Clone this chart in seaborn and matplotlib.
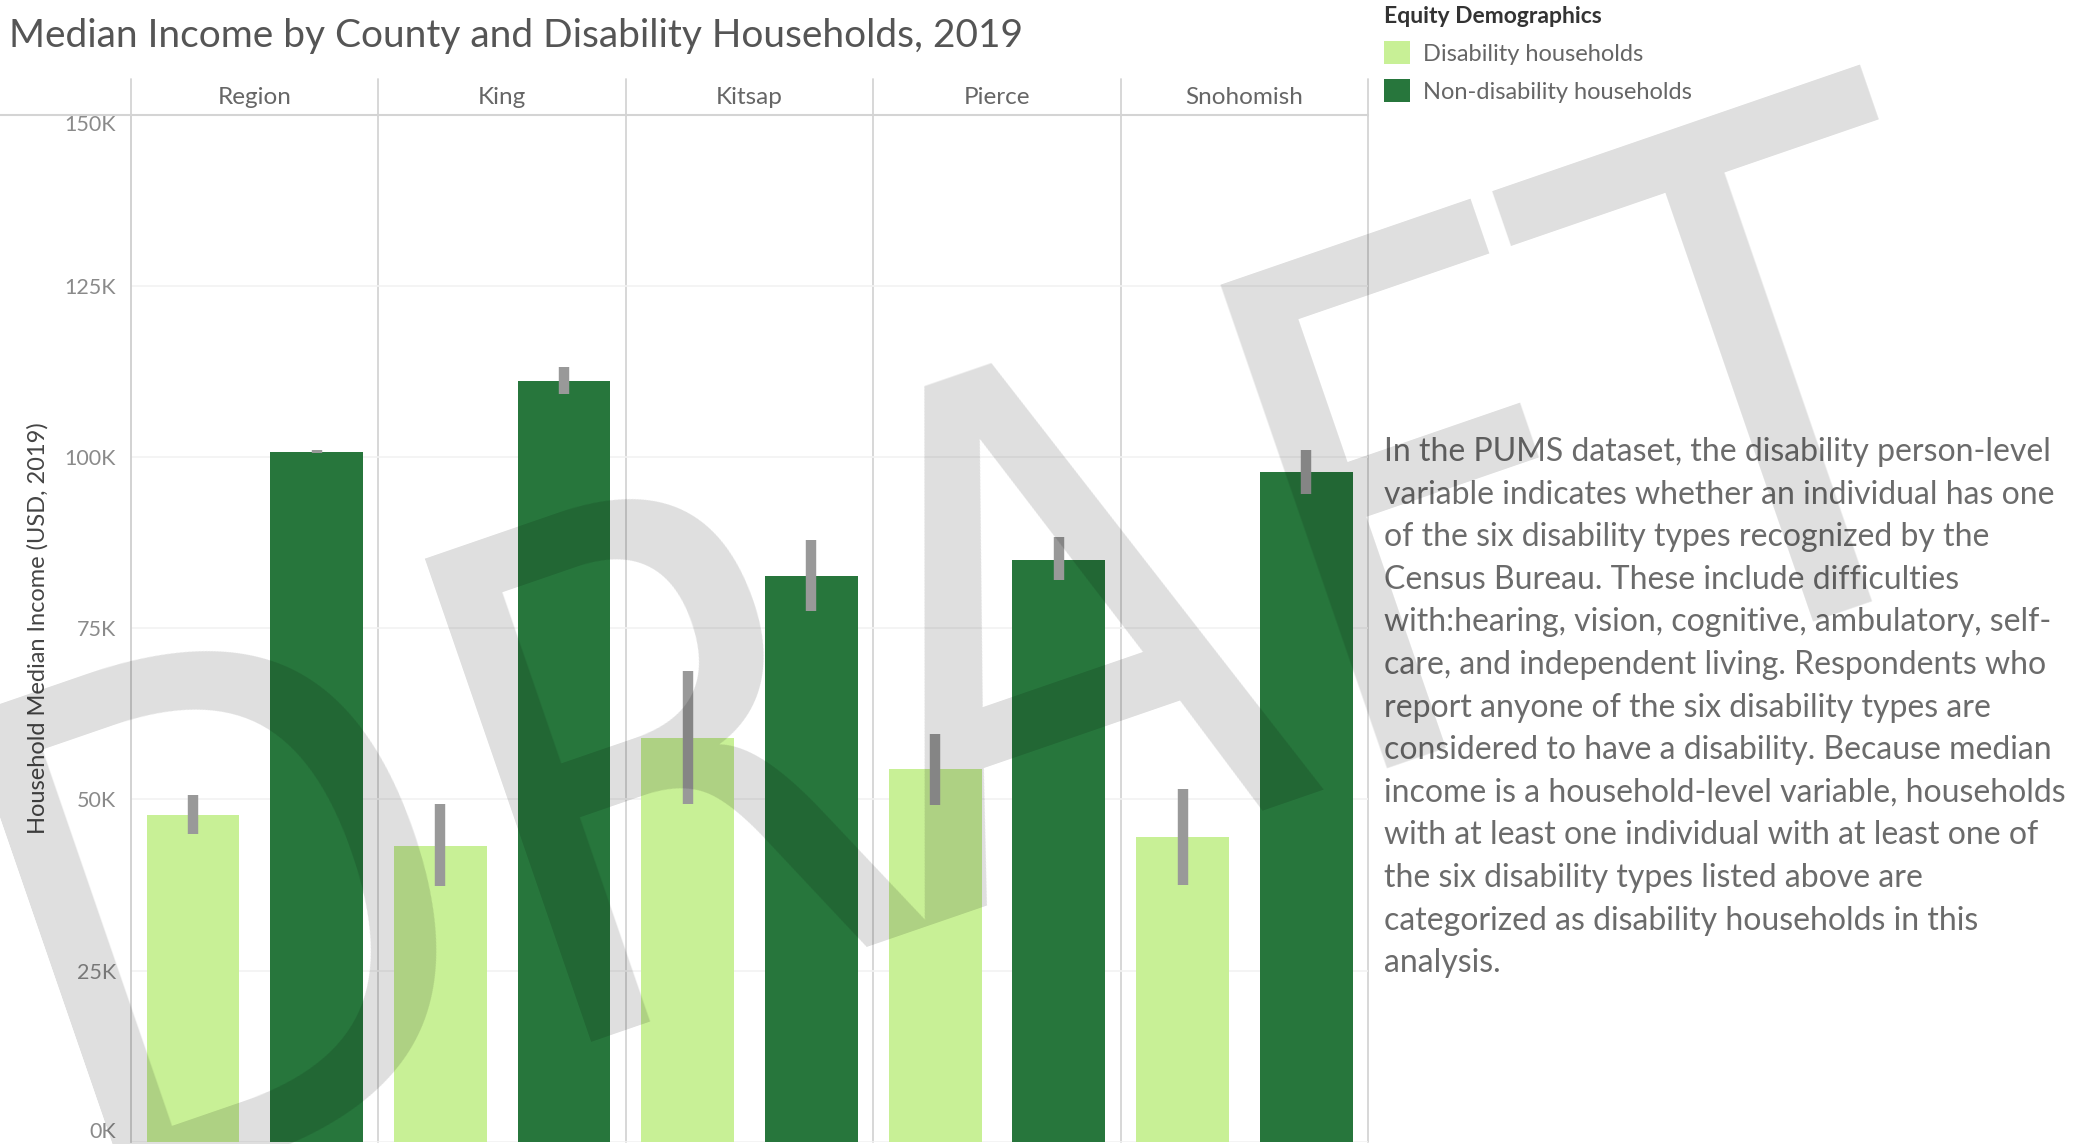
import matplotlib.pyplot as plt
import seaborn as sns
import pandas as pd
from matplotlib.lines import Line2D

# values, in thousands of USD
counties = ['Region', 'King', 'Kitsap', 'Pierce', 'Snohomish']
groups = ['Disability households', 'Non-disability households']

dis_median = [47.8, 43.2, 59.0, 54.4, 44.5]
dis_low = [44.9, 37.4, 49.4, 49.2, 37.5]
dis_high = [50.7, 49.4, 68.7, 59.6, 51.5]

non_median = [100.8, 111.1, 82.6, 85.0, 97.9]
non_low = [100.6, 109.2, 77.6, 82.1, 94.6]
non_high = [101.1, 113.2, 87.9, 88.4, 101.0]

y_ticks = [0, 25, 50, 75, 100, 125, 150]

note_lines = [
    "In the PUMS dataset, the disability person-level",
    "variable indicates whether an individual has one",
    "of the six disability types recognized by the",
    "Census Bureau. These include difficulties",
    "with:hearing, vision, cognitive, ambulatory, self-",
    "care, and independent living. Respondents who",
    "report anyone of the six disability types are",
    "considered to have a disability. Because median",
    "income is a household-level variable, households",
    "with at least one individual with at least one of",
    "the six disability types listed above are",
    "categorized as disability households in this",
    "analysis.",
]

light_green = '#c8f096'
dark_green = '#27763c'

# long table: low / median / high per bar, so seaborn draws the interval
rows = []
for grp, med, lo, hi in [(groups[0], dis_median, dis_low, dis_high),
                         (groups[1], non_median, non_low, non_high)]:
    for c, m, l, h in zip(counties, med, lo, hi):
        for v in (l, m, h):
            rows.append({'county': c, 'group': grp, 'income': v * 1000})
df = pd.DataFrame(rows)

sns.set_theme(style='white')
plt.rcParams['font.family'] = ['Lato', 'DejaVu Sans']

fig = plt.figure(figsize=(20.77, 11.44), dpi=100)
ax = fig.add_axes([0.0631, 0.002, 0.5956, 0.8975])

sns.barplot(data=df, x='county', y='income', hue='group',
            order=counties, hue_order=groups,
            palette=[light_green, dark_green], saturation=1,
            estimator='median', errorbar=lambda v: (v.min(), v.max()),
            err_kws={'color': '#999999', 'linewidth': 7.5,
                     'solid_capstyle': 'butt'},
            width=1.0, gap=0.25, linewidth=0, ax=ax)

ax.set_xlim(-0.5, 4.5)
ax.set_ylim(0, 150000)
ax.set_yticks([t * 1000 for t in y_ticks])
ax.set_yticklabels([f'{t}K' for t in y_ticks])
for lab, t in zip(ax.get_yticklabels(), y_ticks):
    if t == 150:
        lab.set_va('top')
        lab.set_y(148500)
    elif t == 0:
        lab.set_va('bottom')
ax.tick_params(axis='y', labelsize=15.5, labelcolor='#8a8a8a', length=5,
               color='#e6e6e6', pad=6)
ax.yaxis.grid(True, color='#f2f2f2', linewidth=1.2)
ax.set_axisbelow(True)

ax.xaxis.tick_top()
ax.tick_params(axis='x', labelsize=17.5, labelcolor='#666666', length=0, pad=5)
ax.set_xlabel('')
ax.set_ylabel('Household Median Income (USD, 2019)', fontsize=17,
              color='#444444', labelpad=11)

for s in ['top', 'right', 'bottom']:
    ax.spines[s].set_visible(False)
ax.spines['left'].set_color('#cfcfcf')
ax.spines['left'].set_linewidth(1.3)

for xb in [0.5, 1.5, 2.5, 3.5, 4.5]:
    ax.axvline(xb, ymin=0, ymax=1.035, color='#d4d4d4', linewidth=1.3,
               clip_on=False, zorder=0.5)
ax.axvline(-0.5, ymin=1.0, ymax=1.035, color='#d4d4d4', linewidth=1.3,
           clip_on=False)
fig.add_artist(Line2D([0, 0.6587], [0.8995, 0.8995], color='#d4d4d4',
                      linewidth=1.5))

handles, labels = ax.get_legend_handles_labels()
ax.get_legend().remove()
leg = fig.legend(handles, labels, title='Equity Demographics',
                 loc='upper left', bbox_to_anchor=(0.6664, 0.995),
                 frameon=False, alignment='left', fontsize=17,
                 title_fontproperties={'size': 16.5, 'weight': 'bold'},
                 handlelength=1.1, handleheight=1.1, handletextpad=0.55,
                 labelspacing=0.62, borderaxespad=0, borderpad=0)
leg.get_title().set_color('#333333')
for t in leg.get_texts():
    t.set_color('#666666')

fig.text(0.0043, 0.9686, 'Median Income by County and Disability Households, 2019',
         fontsize=28, color='#555555', ha='left', va='center')

for i, line in enumerate(note_lines):
    fig.text(0.6664, 1 - (452 + i * 42.6) / 1144, line, fontsize=23,
             color='#6b6b6b', ha='left', va='center')

fig.text(0.473, 0.405, 'DRAFT', fontsize=505, color='black', alpha=0.13,
         family='DejaVu Sans', stretch='condensed', rotation=19,
         rotation_mode='anchor', ha='center', va='center', zorder=20)

fig.savefig('out.png', dpi=100)
